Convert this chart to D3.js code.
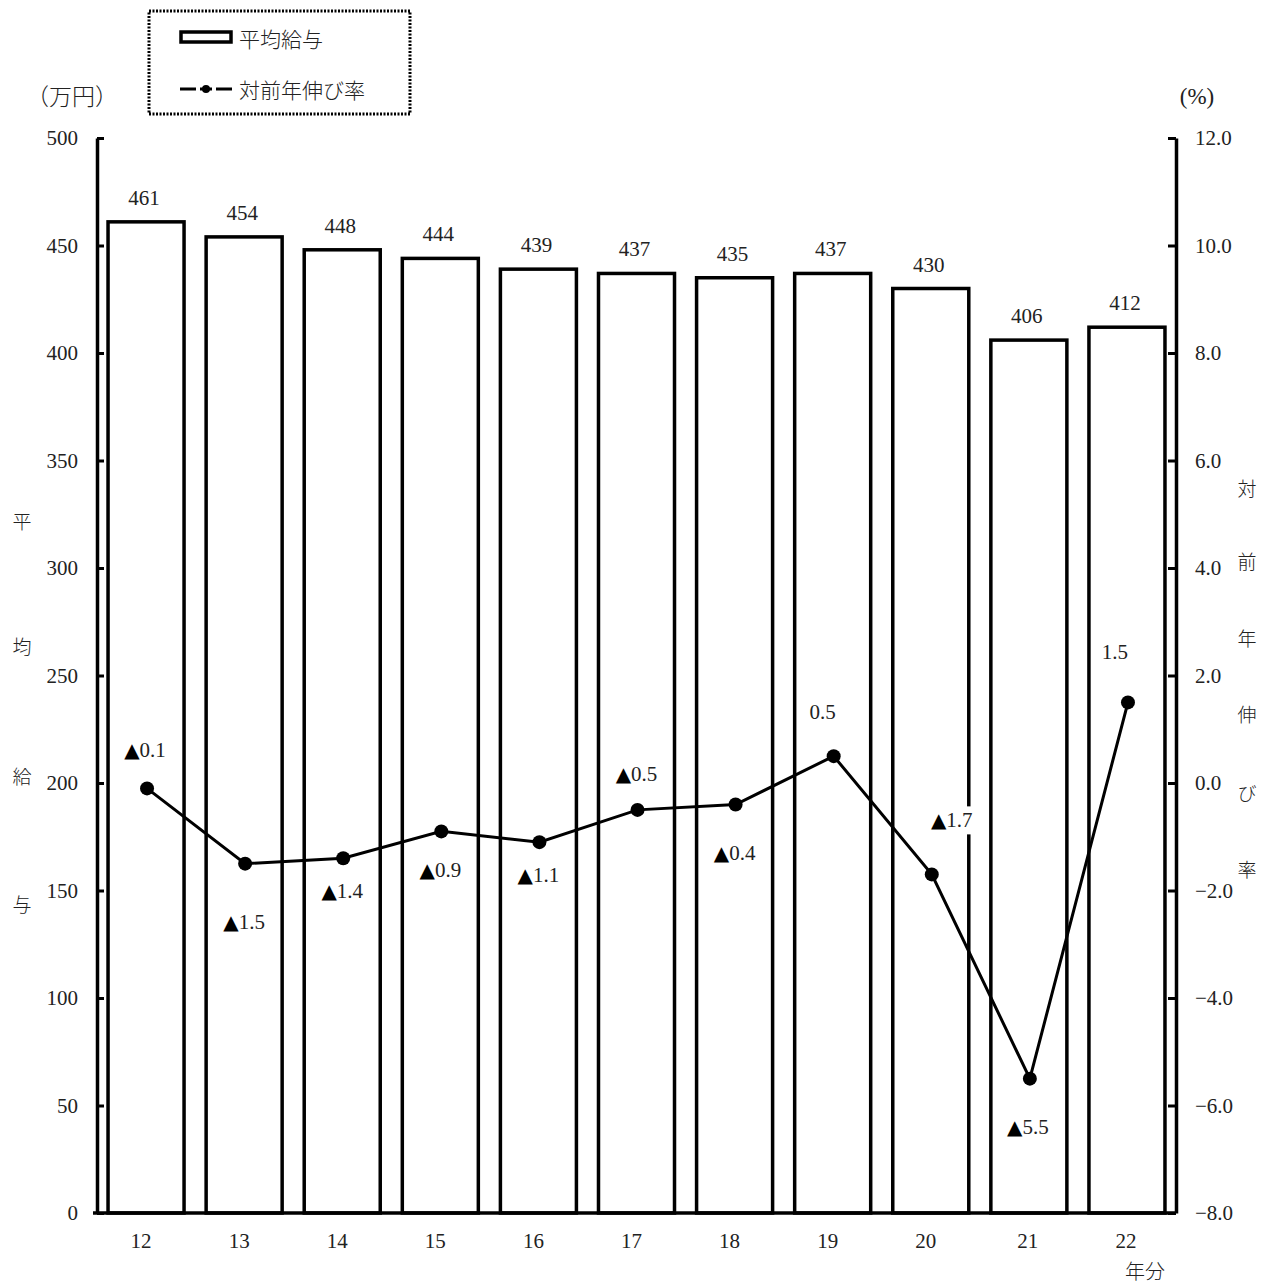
<!DOCTYPE html>
<html><head><meta charset="utf-8">
<script src="https://cdn.jsdelivr.net/npm/d3@7"></script>
<style>
body{margin:0;background:#fff;}
text{font-family:"Liberation Serif","DejaVu Serif","Noto Sans CJK JP",serif;fill:#222;}
.jp{font-family:"Noto Sans CJK JP","Liberation Serif",sans-serif;font-weight:300;}
</style></head>
<body>
<svg id="c" width="1269" height="1286"></svg>
<script>
const categories = ["12","13","14","15","16","17","18","19","20","21","22"];
const salary = [461,454,448,444,439,437,435,437,430,406,412];
const growth = [-0.1,-1.5,-1.4,-0.9,-1.1,-0.5,-0.4,0.5,-1.7,-5.5,1.5];
const leftTicks = [0,50,100,150,200,250,300,350,400,450,500];
const rightTicks = [-8,-6,-4,-2,0,2,4,6,8,10,12];
// label offsets (layout) for growth labels: [dx, dy]
const growthLabelOffset = [[-2,-38],[-1,58],[-1,33],[-1,39],[-1,33],[-1,-36],[-1,48],[-11,-44],[20,-54],[-2,48],[-13,-50]];

const svg = d3.select("#c");
const L = 97, R = 1176, T = 138, B = 1213;
const x = d3.scaleBand().domain(categories).range([L,R]).paddingInner(0.225).paddingOuter(0.1125);
const yL = d3.scaleLinear().domain([0,500]).range([B,T]);
const yR = d3.scaleLinear().domain([-8,12]).range([B,T]);
const cx = c => x(c) + x.bandwidth()/2 + 1;
const NUM = 21;

// bars
svg.append("g").selectAll("rect").data(salary).join("rect")
  .attr("x",(d,i)=>x(categories[i])).attr("y",d=>yL(d))
  .attr("width",x.bandwidth()).attr("height",d=>B-yL(d))
  .attr("fill","#fff").attr("stroke","#000").attr("stroke-width",3.5);

// bar labels
svg.append("g").selectAll("text").data(salary).join("text")
  .attr("x",(d,i)=>cx(categories[i])-3).attr("y",d=>yL(d)-17)
  .attr("text-anchor","middle").attr("font-size",NUM).text(d=>d);

// axes
const axL = d3.axisLeft(yL).tickValues(leftTicks).tickSizeInner(-7).tickSizeOuter(0).tickPadding(19);
const gL = svg.append("g").attr("transform",`translate(${L},0)`).call(axL);
const axR = d3.axisRight(yR).tickValues(rightTicks).tickSizeInner(-8).tickSizeOuter(0).tickPadding(19)
  .tickFormat(d=>(d<0?"\u2212":"")+Math.abs(d).toFixed(1));
const gR = svg.append("g").attr("transform",`translate(${R},0)`).call(axR);
[gL,gR].forEach(g=>{
  g.select(".domain").attr("stroke","#000").attr("stroke-width",3.5);
  g.selectAll(".tick line").attr("stroke","#000").attr("stroke-width",3);
  g.selectAll(".tick text").attr("font-size",NUM).attr("fill","#222")
    .attr("font-family","Liberation Serif, serif");
});
// bottom axis line
svg.append("line").attr("x1",L-4).attr("x2",R).attr("y1",B).attr("y2",B)
  .attr("stroke","#000").attr("stroke-width",3.5);
// x labels
svg.append("g").selectAll("text").data(categories).join("text")
  .attr("x",(d,i)=>cx(d)-(i>=9?2:6)).attr("y",B+35)
  .attr("text-anchor","middle").attr("font-size",NUM).text(d=>d);
svg.append("text").attr("class","jp").attr("x",1145).attr("y",1279)
  .attr("text-anchor","middle").attr("font-size",20).text("年分");

// line
const line = d3.line().x((d,i)=>cx(categories[i])).y(d=>yR(d));
svg.append("path").datum(growth).attr("d",line).attr("fill","none")
  .attr("stroke","#000").attr("stroke-width",3);
svg.append("g").selectAll("circle").data(growth).join("circle")
  .attr("cx",(d,i)=>cx(categories[i])).attr("cy",d=>yR(d)).attr("r",7).attr("fill","#000");

// growth labels
const gl = svg.append("g");
growth.forEach((d,i)=>{
  const px = cx(categories[i]) + growthLabelOffset[i][0];
  const py = yR(d) + growthLabelOffset[i][1];
  if(i===8){
    gl.append("rect").attr("x",px-32).attr("y",py-14).attr("width",64).attr("height",28).attr("fill","#fff");
  }
  const t = gl.append("text").attr("x",px).attr("y",py).attr("dominant-baseline","central")
    .attr("text-anchor","middle").attr("font-size",NUM);
  if(d<0){
    t.append("tspan").attr("font-family","DejaVu Sans, sans-serif").attr("font-size",20).attr("fill","#000").text("▲");
  }
  t.append("tspan").text(Math.abs(d).toFixed(1));
});

// unit labels
svg.append("text").attr("class","jp").attr("x",72).attr("y",105).attr("text-anchor","middle").attr("font-size",23).text("（万円）");
svg.append("text").attr("x",1197).attr("y",104).attr("text-anchor","middle").attr("font-size",23).text("(%)");

// vertical axis titles
const leftTitle = ["平","均","給","与"], leftTitleY=[520,645,775,903];
leftTitle.forEach((c,i)=>svg.append("text").attr("class","jp").attr("x",22).attr("y",leftTitleY[i])
  .attr("text-anchor","middle").attr("dominant-baseline","central").attr("font-size",19).text(c));
const rightTitle = ["対","前","年","伸","び","率"], rightTitleY=[487,560,637,713,792,868];
rightTitle.forEach((c,i)=>svg.append("text").attr("class","jp").attr("x",1247).attr("y",rightTitleY[i])
  .attr("text-anchor","middle").attr("dominant-baseline","central").attr("font-size",19).text(c));

// legend
const lg = svg.append("g");
lg.append("rect").attr("x",149).attr("y",11).attr("width",261).attr("height",103)
  .attr("fill","#fff").attr("stroke","#000").attr("stroke-width",3).attr("stroke-dasharray","2,1.5");
lg.append("rect").attr("x",181).attr("y",32).attr("width",50).attr("height",10)
  .attr("fill","#fff").attr("stroke","#000").attr("stroke-width",3.5);
lg.append("text").attr("class","jp").attr("x",239).attr("y",38).attr("dominant-baseline","central")
  .attr("font-size",21).text("平均給与");
lg.append("line").attr("x1",180).attr("x2",232).attr("y1",89).attr("y2",89).attr("stroke","#000").attr("stroke-width",3);
lg.append("rect").attr("x",196).attr("y",86).attr("width",4).attr("height",6).attr("fill","#fff");
lg.append("rect").attr("x",212).attr("y",86).attr("width",4).attr("height",6).attr("fill","#fff");
lg.append("circle").attr("cx",206).attr("cy",89).attr("r",4).attr("fill","#000");
lg.append("text").attr("class","jp").attr("x",239).attr("y",89).attr("dominant-baseline","central")
  .attr("font-size",21).text("対前年伸び率");
</script>
</body></html>
